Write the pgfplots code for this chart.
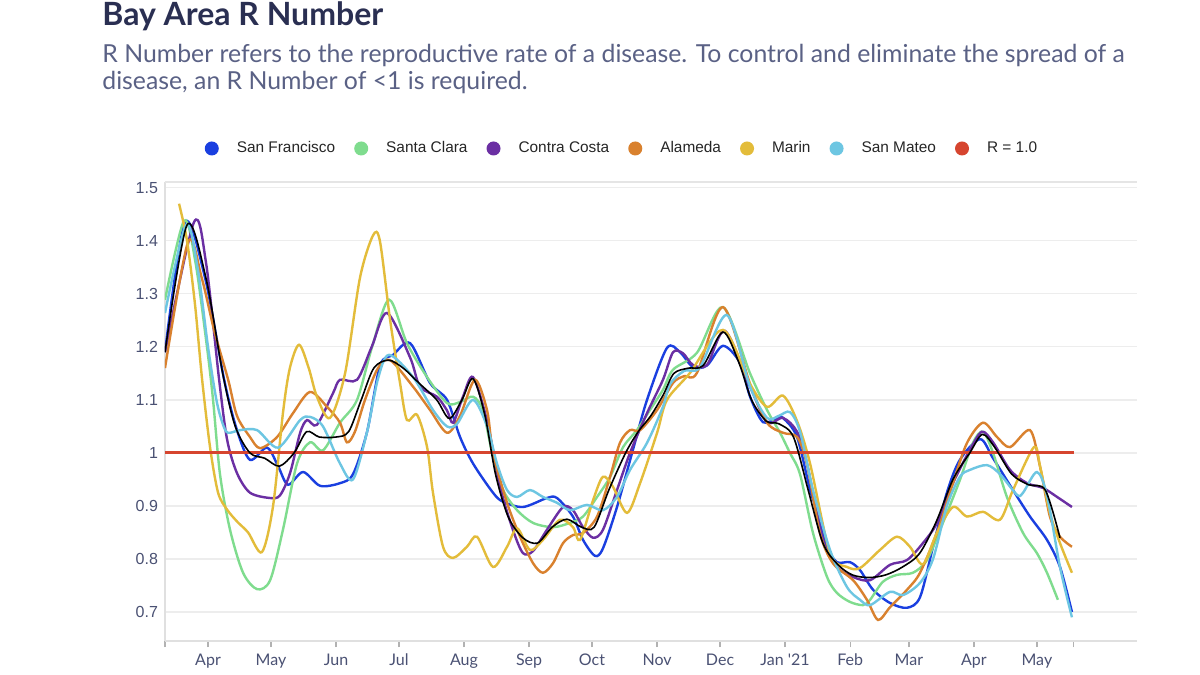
\documentclass[border=0pt]{standalone}
\usepackage{fontspec}
\setmainfont{Lato}
\newfontfamily\arialfont{Liberation Sans}
\usepackage{pgfplots}
\pgfplotsset{compat=1.18}
\definecolor{sfblue}{HTML}{1A3FE0}
\definecolor{scgreen}{HTML}{7FDC8E}
\definecolor{ccpurple}{HTML}{6B2FA3}
\definecolor{alorange}{HTML}{D9812E}
\definecolor{mgold}{HTML}{E3BC3A}
\definecolor{smcyan}{HTML}{6DC6E2}
\definecolor{rred}{HTML}{D6452F}
\definecolor{titlec}{HTML}{2A2F52}
\definecolor{subc}{HTML}{5A6185}
\definecolor{tickc}{HTML}{4A5173}
\definecolor{gridc}{HTML}{EDEDED}
\begin{document}
\begin{tikzpicture}
\fill[white] (0,0) rectangle (600pt,337.5pt);
\useasboundingbox (0,0) rectangle (600pt,337.5pt);
\node[anchor=base west, inner sep=0pt, text=titlec, font=\fontsize{16}{19}\selectfont\bfseries] at (51pt,324.5pt) {Bay Area R Number};
\node[anchor=base west, inner sep=0pt, text=subc, font=\fontsize{12.4}{14}\selectfont] at (51pt,306pt) {R Number refers to the reproductive rate of a disease. To control and eliminate the spread of a};
\node[anchor=base west, inner sep=0pt, text=subc, font=\fontsize{12.4}{14}\selectfont] at (51pt,292.5pt) {disease, an R Number of <1 is required.};
\begin{axis}[
  at={(82.5pt,17pt)}, anchor=south west,
  scale only axis, width=486pt, height=229.5pt,
  xmin=10.5, xmax=473.7, ymin=0.6453, ymax=1.511,
  axis x line*=bottom, axis y line*=left,
  axis line style={draw=black!12, line width=0.6pt},
  ymajorgrids, grid style={gridc, line width=0.6pt},
  tick align=outside, major tick length=3pt,
  xtick style={draw=black!30, line width=0.6pt},
  ytick style={draw=none},
  xtick={10.5,31,61,92,122,153,184,214,245,275,306,337,365,396,426,443.6},
  xticklabels={,Apr,May,Jun,Jul,Aug,Sep,Oct,Nov,Dec,Jan \textquotesingle21,Feb,Mar,Apr,May,},
  ytick={0.7,0.8,0.9,1,1.1,1.2,1.3,1.4,1.5},
  /pgf/number format/assume math mode=true,
  xticklabel style={font=\fontsize{8}{10}\selectfont, text=tickc},
  yticklabel style={font=\arialfont\fontsize{8}{10}\selectfont, text=tickc, xshift=3pt},
  legend columns=7,
  legend style={at={(0.4696,1.073)}, anchor=center, draw=none, fill=none,
    font=\arialfont\fontsize{7.7}{10}\selectfont, text=black!85,
    nodes={inner sep=0.5pt},
    /tikz/every even column/.append style={column sep=9pt}},
  legend cell align=left,
  legend image code/.code={\path[draw=none, fill=.] (3.5pt,0pt) circle (3.5pt); \path[draw=none, fill=none] (0pt,0pt) rectangle (15.5pt,0.1pt);},
]
\draw[black!10, line width=0.6pt] (rel axis cs:0,1) -- (rel axis cs:1,1);
\addplot[color=sfblue, line width=1.2pt, smooth] coordinates {
(10.5,1.19) (20,1.435) (29.6,1.33) (38.7,1.138) (44.8,1.043) (51,0.987) (59.1,1.01) (64.4,0.975) (69.1,0.94) (76.3,0.964) (84.4,0.938) (93.9,0.943) (100.1,0.96) (106.8,1.04) (113,1.165) (119.2,1.185) (127.3,1.207) (136.8,1.132) (144.9,1.1) (151.1,1.03) (157.3,0.98) (166.8,0.925) (171.6,0.908) (181.1,0.898) (192.5,0.915) (197.3,0.915) (204.9,0.88) (209.7,0.836) (215.4,0.806) (219.2,0.82) (225.9,0.898) (233.5,1.006) (240.2,1.1) (249.7,1.198) (255.9,1.19) (262.1,1.162) (268.8,1.165) (276.4,1.202) (284.5,1.17) (289.3,1.106) (295.5,1.058) (302.1,1.066) (305,1.066) (311.7,1.03) (317.9,0.93) (321.2,0.892) (326,0.823) (330.7,0.794) (336.9,0.794) (341.7,0.779) (347.9,0.742) (356,0.717) (364.1,0.708) (370.3,0.728) (376.5,0.823) (383.1,0.925) (389.3,0.987) (398.9,1.026) (405.1,0.99) (414.6,0.93) (422.7,0.88) (430.8,0.836) (437,0.785) (442.7,0.70)};
\addlegendentry{San Francisco}
\addplot[color=scgreen, line width=1.2pt, smooth] coordinates {
(10.5,1.289) (19.6,1.438) (25,1.36) (30.5,1.2) (33.4,1.1) (36.7,0.96) (41.5,0.855) (47.7,0.774) (54.4,0.743) (60.6,0.76) (66.7,0.855) (73.4,0.98) (79.6,1.02) (85.8,1.005) (93.9,1.057) (102,1.1) (109.2,1.2) (117.3,1.289) (125.8,1.207) (135.4,1.143) (144.9,1.094) (151.1,1.096) (157.3,1.106) (162,1.08) (166.8,0.992) (171.6,0.93) (178.3,0.892) (185.9,0.868) (195.4,0.86) (203.5,0.868) (209.7,0.88) (216.4,0.917) (222.6,0.955) (228.8,1.011) (235.4,1.043) (241.6,1.081) (247.8,1.119) (252.6,1.157) (264,1.189) (276.4,1.275) (289.3,1.15) (297.4,1.081) (303.6,1.038) (308.3,1.0) (313.1,0.96) (319.3,0.849) (326,0.766) (330.7,0.736) (336.9,0.719) (343.1,0.713) (346.5,0.723) (352.6,0.757) (359.3,0.77) (366.9,0.774) (373.6,0.798) (381.2,0.868) (389.3,0.949) (395.5,1.019) (400.3,1.04) (405.1,1.0) (411.7,0.917) (419.4,0.849) (426,0.811) (430.8,0.774) (436,0.723)};
\addlegendentry{Santa Clara}
\addplot[color=ccpurple, line width=1.2pt, smooth] coordinates {
(10.5,1.19) (24.3,1.435) (30,1.36) (36.3,1.138) (40.1,1.025) (44.8,0.962) (51,0.925) (60.6,0.915) (65.3,0.92) (70.1,0.962) (74.9,1.038) (78.2,1.062) (82.9,1.053) (90.6,1.113) (93.9,1.138) (102,1.138) (109,1.2) (116.3,1.264) (127.3,1.18) (132,1.125) (140.1,1.106) (144.9,1.08) (147.8,1.057) (152.5,1.106) (157.3,1.143) (164,1.06) (170.2,0.936) (176.3,0.855) (181.1,0.811) (185.9,0.815) (192.5,0.855) (200.2,0.898) (204.9,0.892) (209.7,0.86) (214.5,0.84) (219.2,0.855) (225.9,0.93) (232.1,1.0) (240.2,1.075) (247.8,1.138) (252.6,1.19) (257.3,1.188) (262.1,1.166) (268.8,1.166) (277.4,1.23) (289.3,1.125) (297.4,1.058) (305,1.066) (311.7,1.04) (316.4,0.98) (324.1,0.836) (330.7,0.785) (338.4,0.766) (346.5,0.76) (356,0.789) (364.1,0.798) (371.7,0.83) (378.4,0.868) (386,0.943) (394.1,1.006) (399.8,1.04) (405.1,1.02) (413.2,0.968) (421.3,0.943) (428.9,0.934) (435.6,0.917) (442.7,0.898)};
\addlegendentry{Contra Costa}
\addplot[color=alorange, line width=1.2pt, smooth] coordinates {
(10.5,1.16) (21.5,1.398) (28,1.33) (34,1.23) (40.6,1.138) (44.8,1.07) (51,1.03) (55.8,1.009) (63.9,1.03) (71.5,1.075) (79.6,1.115) (87.7,1.087) (93.9,1.057) (97.2,1.02) (101,1.04) (105.8,1.10) (112,1.16) (117.8,1.175) (128.7,1.125) (136.8,1.081) (144.9,1.038) (151.1,1.07) (158.2,1.138) (164,1.08) (166.8,1.0) (173.5,0.906) (179.7,0.842) (185.9,0.792) (190.6,0.774) (195.4,0.792) (200.2,0.83) (204.9,0.845) (209.7,0.849) (216.4,0.88) (222.6,0.955) (227.3,1.019) (232.1,1.043) (236.9,1.043) (245,1.081) (252.6,1.132) (258,1.145) (264,1.151) (276.4,1.275) (289.3,1.13) (297.4,1.057) (305,1.038) (311.7,1.03) (316.4,0.98) (322.6,0.849) (328.8,0.792) (338.4,0.76) (345,0.723) (350.3,0.685) (356,0.709) (364.1,0.742) (370.3,0.774) (378.4,0.85) (386,0.943) (392.7,1.019) (400.3,1.057) (407,1.03) (413.2,1.011) (422.7,1.043) (427.5,0.974) (432.2,0.88) (437,0.842) (442.7,0.823)};
\addlegendentry{Alameda}
\addplot[color=mgold, line width=1.2pt, smooth] coordinates {
(17.2,1.47) (21,1.40) (24.8,1.28) (28.2,1.138) (32,1.01) (35.8,0.925) (40.1,0.893) (45,0.87) (50.1,0.85) (56.7,0.813) (62,0.9) (66.7,1.075) (70,1.16) (74.4,1.204) (79,1.16) (82.9,1.106) (89.1,1.066) (96.3,1.15) (103.4,1.33) (109.6,1.41) (112.9,1.40) (117.8,1.25) (122.5,1.132) (125.8,1.062) (130.6,1.072) (135.4,1.011) (138.2,0.925) (143,0.823) (147.8,0.802) (154.4,0.823) (159.2,0.842) (166.8,0.785) (173.5,0.823) (178.3,0.858) (184.4,0.817) (190.6,0.836) (198.7,0.874) (204.9,0.86) (208.3,0.836) (214.5,0.911) (219.2,0.955) (224,0.936) (230.7,0.887) (236.9,0.943) (245,1.038) (249.7,1.1) (260.7,1.151) (276.4,1.232) (289.3,1.13) (297.4,1.087) (305,1.108) (311.7,1.06) (317.9,0.98) (327.4,0.811) (335.5,0.785) (341.7,0.783) (351.2,0.817) (359.3,0.842) (365.5,0.823) (371.7,0.79) (378.4,0.85) (386,0.898) (392.7,0.88) (400.3,0.889) (408.4,0.874) (414.6,0.93) (424.6,1.011) (427.5,0.975) (432.2,0.887) (437,0.83) (442.7,0.774)};
\addlegendentry{Marin}
\addplot[color=smcyan, line width=1.2pt, smooth] coordinates {
(10.5,1.264) (20.5,1.43) (26,1.35) (31,1.2) (35,1.1) (38,1.055) (40.5,1.038) (46.3,1.043) (54.4,1.043) (64.4,1.01) (74.9,1.062) (79.6,1.068) (85.8,1.05) (93.9,0.98) (100.1,0.95) (106.8,1.04) (112,1.14) (117.3,1.185) (128.7,1.143) (138.2,1.081) (144.9,1.05) (149.7,1.055) (157.3,1.1) (164,1.05) (168.7,0.98) (173.5,0.93) (178.3,0.917) (184.4,0.93) (190.6,0.917) (197.3,0.906) (203.5,0.892) (211.6,0.902) (219.2,0.892) (225.9,0.917) (232.1,0.968) (240.2,1.019) (247.8,1.087) (251.2,1.13) (258,1.155) (265.5,1.162) (278.3,1.26) (289.3,1.125) (297.4,1.066) (303,1.07) (308.3,1.077) (313.1,1.04) (319.3,0.93) (327.4,0.817) (335.5,0.747) (341.7,0.723) (346.5,0.713) (356,0.738) (362.2,0.732) (370.3,0.755) (376.5,0.8) (383.1,0.9) (389.3,0.955) (394.1,0.968) (402.2,0.977) (408.4,0.96) (416.5,0.921) (419.4,0.925) (426,0.964) (430.8,0.92) (437,0.785) (442.7,0.69)};
\addlegendentry{San Mateo}
\addplot[color=rred, line width=1.5pt] coordinates {(10.5,1) (443.6,1)};
\addlegendentry{R = 1.0}
\addplot[color=black, line width=0.8pt, smooth, forget plot] coordinates {
(10.5,1.19) (21,1.43) (30,1.33) (38,1.15) (44,1.05) (51,1.0) (58,0.99) (65,0.975) (72,1.0) (78,1.04) (84,1.03) (92,1.03) (98,1.04) (104,1.1) (110,1.16) (117,1.175) (124,1.16) (132,1.13) (140,1.1) (146,1.065) (152,1.1) (157.3,1.14) (163,1.07) (168,0.96) (174,0.88) (181,0.84) (188,0.83) (195,0.86) (202,0.875) (209,0.86) (215,0.86) (222,0.93) (230,1.0) (236,1.04) (242,1.07) (248,1.11) (253,1.15) (260,1.16) (267,1.165) (276.4,1.228) (284,1.17) (290,1.1) (297,1.06) (303,1.055) (310,1.03) (317,0.93) (324,0.83) (331,0.79) (338,0.77) (346,0.765) (354,0.77) (362,0.785) (370,0.81) (378,0.87) (386,0.95) (394,1.0) (400,1.035) (406,1.01) (414,0.96) (422,0.94) (430,0.93) (437,0.84)};
\end{axis}
\end{tikzpicture}
\end{document}
